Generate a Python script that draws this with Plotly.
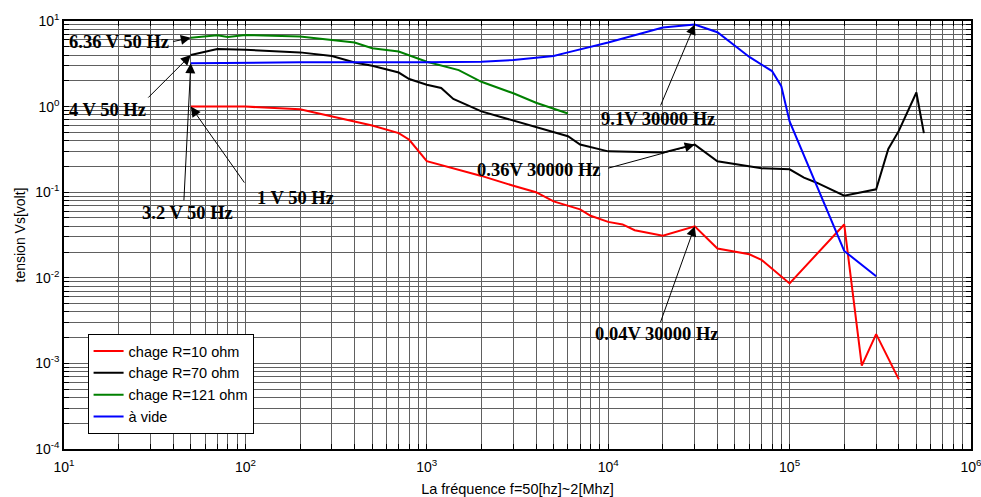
import math
import plotly.graph_objects as go

# Frequency response measurements (Hz -> V)
f_r10 = [50, 100, 200, 300, 500, 700, 800, 1000, 2000, 3000, 4000, 5000, 7000, 8000,
         10000, 12000, 14000, 20000, 30000, 40000, 60000, 70000, 100000, 200000,
         250000, 300000, 400000]
v_r10 = [1.0, 1.0, 0.93, 0.76, 0.60, 0.49, 0.41, 0.23, 0.155, 0.119, 0.10, 0.078, 0.063,
         0.053, 0.045, 0.042, 0.036, 0.031, 0.04, 0.022, 0.0188, 0.0162, 0.0086, 0.042,
         0.00094, 0.0022, 0.00065]

f_r70 = [50, 70, 100, 200, 300, 400, 500, 600, 700, 800, 1000, 1200, 1400, 2000, 3000,
         4000, 5000, 6000, 7000, 10000, 20000, 30000, 40000, 60000, 70000, 100000,
         120000, 140000, 200000, 300000, 350000, 400000, 500000, 550000]
v_r70 = [4.0, 4.7, 4.6, 4.3, 3.9, 3.27, 3.0, 2.7, 2.5, 2.1, 1.8, 1.65, 1.23, 0.88, 0.69,
         0.58, 0.50, 0.45, 0.36, 0.30, 0.29, 0.36, 0.23, 0.20, 0.19, 0.185, 0.148, 0.13,
         0.091, 0.108, 0.32, 0.52, 1.46, 0.49]

f_r121 = [50, 70, 80, 100, 200, 300, 400, 500, 700, 1000, 1500, 2000, 3000, 4000, 6000]
v_r121 = [6.36, 6.8, 6.5, 6.85, 6.6, 6.0, 5.6, 4.8, 4.4, 3.34, 2.67, 1.95, 1.43, 1.11, 0.83]

f_vide = [50, 200, 1000, 2000, 3000, 4000, 5000, 6000, 10000, 20000, 30000, 40000, 60000,
          80000, 90000, 100000, 200000, 300000]
v_vide = [3.2, 3.3, 3.3, 3.35, 3.5, 3.7, 3.9, 4.3, 5.6, 8.4, 9.1, 7.4, 3.8, 2.6, 1.73,
          0.67, 0.0206, 0.0104]

series_names = ["chage R=10 ohm", "chage R=70 ohm", "chage R=121 ohm", "à vide"]
series_colors = ["#ff0000", "#000000", "#008000", "#0000ff"]

# Labelled points: (frequency, voltage, label)
point_labels = [
    (50, 6.36, "6.36 V 50 Hz"),
    (50, 4.0, "4 V 50 Hz"),
    (50, 3.2, "3.2 V 50 Hz"),
    (50, 1.0, "1 V 50 Hz"),
    (30000, 9.1, "9.1V 30000 Hz"),
    (30000, 0.36, "0.36V 30000 Hz"),
    (30000, 0.04, "0.04V 30000 Hz"),
]
# arrow tail offsets (px) and text placement (paper coords, left/middle anchored)
arrow_offsets = [(-19, 4), (-44, 44), (-7, 139), (55, 78), (-35, 83), (-88, 24), (-35, 98)]
text_pos = [(0.003, 0.951), (0.003, 0.792), (0.084, 0.551), (0.211, 0.586),
            (0.590, 0.771), (0.453, 0.652), (0.583, 0.269)]

x_decades = [1, 2, 3, 4, 5, 6]
y_decades = [-4, -3, -2, -1, 0, 1]


def log_ticks(decades):
    vals, texts = [], []
    for d in decades:
        for m in range(1, 10):
            if d == decades[-1] and m > 1:
                break
            vals.append(m * 10.0 ** d)
            texts.append(f"10<sup>{d}</sup>" if m == 1 else "")
    return vals, texts


xt_vals, xt_text = log_ticks(x_decades)
yt_vals, yt_text = log_ticks(y_decades)

fig = go.Figure()
for fx, vy, name, col in zip([f_r10, f_r70, f_r121, f_vide],
                             [v_r10, v_r70, v_r121, v_vide],
                             series_names, series_colors):
    fig.add_trace(go.Scatter(x=fx, y=vy, mode="lines", name=name,
                             line=dict(color=col, width=2)))

annotations = []
label_font = dict(family="Liberation Serif, Times New Roman, serif", size=18.5, color="black")
for (fq, v, lab), (ax, ay), (tx, ty) in zip(point_labels, arrow_offsets, text_pos):
    annotations.append(dict(x=math.log10(fq), y=math.log10(v), xref="x", yref="y",
                            text=" ", font=dict(size=1), showarrow=True, ax=ax, ay=ay,
                            arrowhead=2, arrowsize=2, arrowwidth=1, arrowcolor="black",
                            standoff=0, startstandoff=0))
    annotations.append(dict(x=tx, y=ty, xref="paper", yref="paper", text=f"<b>{lab}</b>",
                            showarrow=False, xanchor="left", yanchor="middle",
                            font=label_font))

axis_common = dict(type="log", showline=True, linecolor="black", linewidth=1.5,
                   mirror="allticks", ticks="inside", ticklen=5, tickcolor="black",
                   showgrid=True, gridcolor="#606060", gridwidth=1, zeroline=False,
                   tickmode="array", automargin=False, ticklabeloverflow="allow",
                   tickfont=dict(family="Liberation Sans, Arial, sans-serif", size=14,
                                 color="black"))

fig.update_layout(
    width=981, height=497,
    margin=dict(l=64, r=10, t=21, b=48),
    paper_bgcolor="white", plot_bgcolor="white",
    font=dict(family="Liberation Sans, Arial, sans-serif", size=14, color="black"),
    xaxis=dict(range=[1, 6], tickvals=xt_vals, ticktext=xt_text, ticklabelstandoff=4,
               title=dict(text="La fréquence f=50[hz]~2[Mhz]", standoff=14,
                          font=dict(size=14.5)),
               **axis_common),
    yaxis=dict(range=[-4, 1], tickvals=yt_vals, ticktext=yt_text,
               title=dict(text="tension Vs[volt]", standoff=6, font=dict(size=14)),
               **axis_common),
    legend=dict(x=0.026, y=0.035, xanchor="left", yanchor="bottom",
                bgcolor="white", bordercolor="black", borderwidth=1,
                font=dict(size=14.5), tracegroupgap=0),
    annotations=annotations,
    showlegend=True,
)

fig.write_html("out.html")
